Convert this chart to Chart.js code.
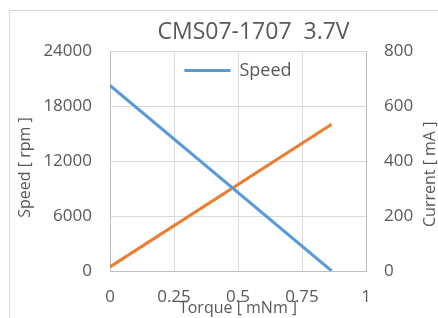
<!DOCTYPE html>
<html>
<head>
<meta charset="utf-8">
<script src="https://cdn.jsdelivr.net/npm/chart.js@4.4.0/dist/chart.umd.min.js"></script>
<style>
  html, body { margin: 0; padding: 0; background: #fff; overflow: hidden; }
  #wrap { position: relative; width: 438px; height: 318px; overflow: hidden; }
  #frame { position: absolute; left: 9px; top: 10px; width: 489px; height: 400px; border: 1px solid #d9d9d9; box-sizing: border-box; }
  canvas { position: absolute; left: 0; top: 0; }
</style>
</head>
<body>
<div id="wrap">
  <div id="frame"></div>
  <canvas id="chart" width="507" height="318"></canvas>
</div>
<script>
// data
var torque = [0, 0.866];
var speed = [20300, 0];
var current = [15, 535];

var xTicks = ['0', '0.25', '0.5', '0.75', '1'];
var speedTicks = ['0', '6000', '12000', '18000', '24000'];
var currentTicks = ['0', '200', '400', '600', '800'];

var textColor = '#595959';
Chart.defaults.font.family = 'Open Sans';
Chart.defaults.color = textColor;

function points(ys) {
    return torque.map(function(t, i) { return { x: t, y: ys[i] }; });
}

// legend sits inside the plot, centred at the top
var legendInPlot = {
    id: 'legendInPlot',
    beforeDraw: function(c) {
        var lg = c.legend, a = c.chartArea;
        if (!lg || !lg.legendHitBoxes.length) return;
        var w = lg.legendHitBoxes[0].width;
        lg.top = a.top;
        lg.bottom = a.bottom;
        lg.left = (a.left + a.right) / 2 - w / 2 - lg.options.labels.padding;
    }
};

// right axis title reads bottom-to-top like the left one
var rightTitle = {
    id: 'rightTitle',
    afterDraw: function(c) {
        var s = c.scales.y1;
        var g = c.ctx;
        g.save();
        g.font = '16px "Open Sans"';
        g.fillStyle = textColor;
        g.textAlign = 'center';
        g.textBaseline = 'middle';
        g.translate(s.right - 68, (s.top + s.bottom) / 2 + 13);
        g.rotate(-Math.PI / 2);
        g.fillText('Current [ mA ]', 0, 0);
        g.restore();
    }
};

var ctx = document.getElementById('chart').getContext('2d');
var chart = new Chart(ctx, {
    type: 'line',
    data: {
        datasets: [{
            label: 'Speed',
            data: points(speed),
            borderColor: '#5b9bd5',
            backgroundColor: '#5b9bd5',
            borderWidth: 3,
            pointRadius: 0,
            yAxisID: 'y'
        }, {
            label: 'Current',
            data: points(current),
            borderColor: '#ed7d31',
            backgroundColor: '#ed7d31',
            borderWidth: 3,
            pointRadius: 0,
            yAxisID: 'y1'
        }]
    },
    plugins: [legendInPlot, rightTitle],
    options: {
        responsive: false,
        animation: false,
        layout: { padding: { left: 9, right: 9, top: 10, bottom: 0 } },
        plugins: {
            title: {
                display: true,
                text: 'CMS07-1707  3.7V',
                color: textColor,
                font: { size: 23, weight: 'normal' },
                padding: { top: 9, bottom: 5 }
            },
            legend: {
                position: 'chartArea',
                align: 'start',
                labels: {
                    filter: function(item) { return item.datasetIndex === 0; },
                    usePointStyle: true,
                    pointStyle: 'line',
                    pointStyleWidth: 46,
                    padding: 10,
                    color: textColor,
                    font: { size: 18 }
                }
            },
            tooltip: { enabled: false }
        },
        scales: {
            x: {
                type: 'linear',
                min: 0,
                max: 1,
                ticks: {
                    stepSize: 0.25,
                    padding: 16,
                    font: { size: 17 },
                    callback: function(v, i) { return xTicks[i]; }
                },
                grid: { color: '#d9d9d9', drawTicks: false },
                border: { color: '#bfbfbf' },
                title: {
                    display: true,
                    text: 'Torque [ mNm ]',
                    font: { size: 16 },
                    padding: { top: 0, bottom: 0 }
                },
                afterFit: function(s) { s.height = 47; }
            },
            y: {
                position: 'left',
                min: 0,
                max: 24000,
                ticks: {
                    stepSize: 6000,
                    padding: 18,
                    font: { size: 17 },
                    callback: function(v, i) { return speedTicks[i]; }
                },
                grid: { color: '#d9d9d9', drawTicks: false },
                border: { color: '#bfbfbf' },
                title: {
                    display: true,
                    text: 'Speed [ rpm ]   ',
                    font: { size: 16 },
                    padding: { top: 7, bottom: 0 }
                },
                afterFit: function(s) { s.width = 101; }
            },
            y1: {
                position: 'right',
                min: 0,
                max: 800,
                ticks: {
                    stepSize: 200,
                    padding: 18,
                    font: { size: 17 },
                    callback: function(v, i) { return currentTicks[i]; }
                },
                grid: { drawOnChartArea: false, drawTicks: false },
                border: { color: '#bfbfbf' },
                afterFit: function(s) { s.width = 132; }
            }
        }
    }
});
</script>
</body>
</html>
